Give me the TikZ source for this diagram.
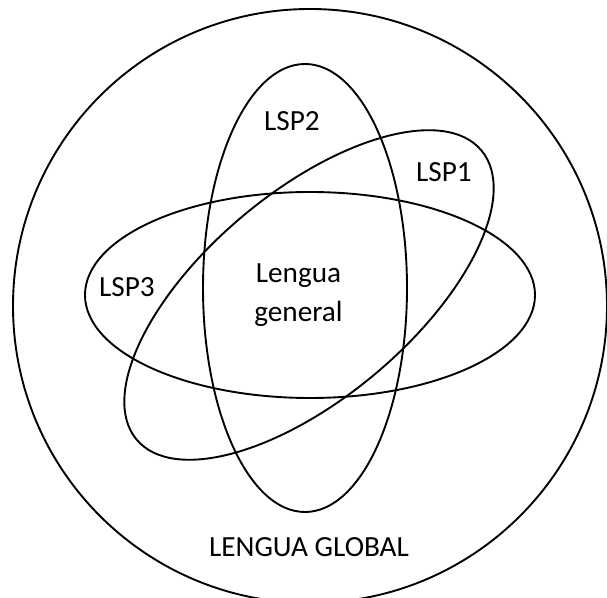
\documentclass[tikz,border=0pt]{standalone}
\usepackage{fontspec}
\setmainfont{Carlito}
\usepackage{tikz}
\usetikzlibrary{positioning}

\begin{document}
\begin{tikzpicture}[
    set/.style={draw, line width=1.35pt},
    lbl/.style={align=center, inner sep=0pt, font=\fontsize{20.8}{27.7}\selectfont}
  ]
  \useasboundingbox (0,0) rectangle (15.175,14.95);
  \clip (0,0) rectangle (15.175,14.95);

  % global circle and the three LSP ellipses
  \draw[set] (7.75,7.30) circle (7.425);
  \draw[set] (7.625,7.75) ellipse [x radius=2.55, y radius=5.6];
  \draw[set] (7.75,7.575) ellipse [x radius=5.625, y radius=2.575];
  \draw[set, rotate around={40:(7.725,7.575)}] (7.725,7.575) ellipse [x radius=5.625, y radius=2.575];

  \node[lbl] (core) at (7.4625,7.5625) {Lengua\\general};
  \node[lbl] (lsp2) at (7.3,11.925) {LSP2};
  \node[lbl] (lsp1) at (11.1,10.65) {LSP1};
  \node[lbl] (lsp3) at (3.175,7.775) {LSP3};
  \node[lbl] (global) at (7.725,1.275) {LENGUA GLOBAL};
\end{tikzpicture}
\end{document}
